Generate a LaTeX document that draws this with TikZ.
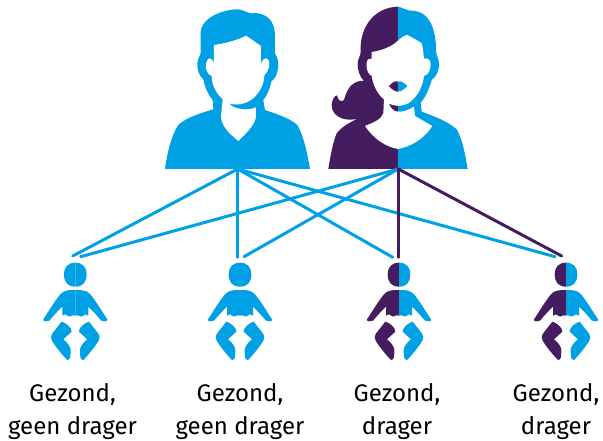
\documentclass[tikz,border=0pt]{standalone}
\usepackage{fontspec}
\setmainfont{Fira Sans}
\usepackage{tikz}
\definecolor{erfblue}{HTML}{00A1E4}
\definecolor{erfpurple}{HTML}{451C5F}
\tikzset{
  link/.style={line width=3pt,line cap=round},
  caption/.style={align=center,font=\fontsize{24}{33}\selectfont,inner sep=0pt}
}
% half a baby, left of the axis, in units of a third of a pixel
\newcommand{\babyhalf}{
  \fill (0,-38) .. controls (-22,-38) and (-34,-52) .. (-34,-72) .. controls (-34,-98) and (-22,-110) .. (0,-110) -- cycle;
  \fill (0,-120) .. controls (-20,-120) and (-34,-120) .. (-46,-134) .. controls (-62,-154) and (-84,-190) .. (-96,-208) .. controls (-98,-215) and (-85,-216) .. (-78,-212) .. controls (-68,-200) and (-52,-182) .. (-39,-170) -- (-39,-197) .. controls (-30,-192) and (-28,-192) .. (-22,-198) .. controls (-16,-204) and (-10,-192) .. (0,-197) -- cycle;
  \fill (-41,-215) .. controls (-30,-218) and (-10,-232) .. (-11,-245) -- (-36,-268) .. controls (-20,-280) and (-12,-295) .. (-14,-305) .. controls (-15,-318) and (-14,-330) .. (-24,-330) .. controls (-30,-325) and (-60,-290) .. (-70,-272) .. controls (-74,-265) and (-74,-258) .. (-70,-252) -- cycle;
}
\begin{document}
\begin{tikzpicture}[x=1pt,y=1pt]
  \useasboundingbox (0,0) rectangle (603,441);

  % father
  \begin{scope}[shift={(150,441)},x=0.3333pt,y=-0.3333pt]
    \fill[erfblue] (45,507) .. controls (52,460) and (62,410) .. (85,375) .. controls (110,352) and (150,340) .. (190,328) -- (188,300) .. controls (172,280) and (165,262) .. (160,238) .. controls (148,228) and (141,210) .. (142,190) .. controls (143,175) and (150,170) .. (152,160) -- (152,95) .. controls (155,55) and (215,28) .. (265,28) .. controls (280,30) and (295,40) .. (305,40) .. controls (350,35) and (375,65) .. (375,105) -- (375,160) .. controls (385,175) and (388,195) .. (382,215) .. controls (378,232) and (372,238) .. (364,245) .. controls (358,270) and (352,285) .. (340,300) -- (345,330) .. controls (380,342) and (420,355) .. (442,375) .. controls (462,410) and (472,460) .. (480,507) -- cycle;
    \fill[white] (192,135) .. controls (225,130) and (260,122) .. (288,107) -- (333,138) -- (333,192) .. controls (336,180) and (345,172) .. (352,176) .. controls (362,182) and (360,210) .. (343,226) .. controls (342,255) and (330,275) .. (310,295) .. controls (290,312) and (260,318) .. (238,310) .. controls (245,325) and (290,335) .. (318,322) -- (318,350) .. controls (315,370) and (300,390) .. (265,423) .. controls (230,395) and (215,375) .. (213,350) -- (218,298) .. controls (200,280) and (186,260) .. (185,228) .. controls (170,225) and (160,195) .. (175,176) .. controls (183,172) and (190,182) .. (192,192) -- cycle;
  \end{scope}

  % mother
  \begin{scope}[shift={(320,441)},x=0.3333pt,y=-0.3333pt]
    \fill[erfpurple] (234,507) -- (25,507) .. controls (32,465) and (38,430) .. (50,400) .. controls (70,375) and (100,362) .. (122,352) .. controls (100,362) and (75,362) .. (55,350) .. controls (38,340) and (30,320) .. (38,300) .. controls (42,292) and (50,282) .. (52,288) .. controls (54,300) and (62,308) .. (72,300) .. controls (78,280) and (85,258) .. (105,248) .. controls (118,242) and (125,242) .. (132,243) .. controls (120,232) and (112,210) .. (113,190) .. controls (114,175) and (122,168) .. (122,155) .. controls (118,85) and (160,22) .. (234,20) -- cycle;
    \fill[erfblue] (234,507) -- (443,507) .. controls (435,460) and (428,420) .. (410,388) .. controls (385,365) and (345,350) .. (305,335) -- (302,308) .. controls (318,290) and (328,265) .. (335,240) .. controls (350,230) and (358,210) .. (357,190) .. controls (356,175) and (348,165) .. (348,150) .. controls (348,90) and (330,30) .. (270,32) .. controls (258,30) and (245,22) .. (234,20) -- cycle;
    % face and neck
    \fill[white] (155,156) .. controls (185,152) and (215,140) .. (234,122) .. controls (245,112) and (255,105) .. (262,105) .. controls (280,115) and (295,122) .. (305,130) .. controls (310,145) and (310,160) .. (312,176) .. controls (320,172) and (332,178) .. (332,192) .. controls (332,210) and (325,225) .. (312,228) .. controls (308,260) and (295,285) .. (272,305) .. controls (255,318) and (228,322) .. (208,312) .. controls (212,325) and (225,335) .. (240,335) .. controls (255,335) and (268,328) .. (282,320) -- (285,348) -- (337,378) .. controls (310,420) and (270,440) .. (234,447) .. controls (195,440) and (160,415) .. (135,378) .. controls (160,368) and (185,358) .. (190,340) -- (192,298) .. controls (175,285) and (160,260) .. (155,228) .. controls (145,225) and (137,205) .. (140,188) .. controls (142,178) and (148,174) .. (155,176) -- cycle;
    % mouth
    \fill[erfpurple] (234,245) .. controls (225,240) and (215,250) .. (207,258) .. controls (215,268) and (225,275) .. (234,275) -- cycle;
    \fill[erfblue] (234,245) .. controls (243,240) and (253,250) .. (262,258) .. controls (253,268) and (243,275) .. (234,275) -- cycle;
    % chin, purple side
    \fill[erfpurple] (234,318) .. controls (225,318) and (215,316) .. (208,312) .. controls (212,325) and (222,333) .. (234,335) -- cycle;
  \end{scope}

  % children
  \foreach \bx/\bl/\br in {75.3/erfblue/erfblue,240/erfblue/erfblue,399/erfpurple/erfblue,566/erfpurple/erfblue}{
    \begin{scope}[shift={(\bx,191)},x=0.3333pt,y=0.3333pt]
      \begin{scope}[color=\bl]
        \babyhalf
      \end{scope}
      \begin{scope}[xscale=-1,color=\br]
        \babyhalf
      \end{scope}
    \end{scope}
  }

  \coordinate (F) at (237.7,272);
  \coordinate (M) at (398.3,272);
  \coordinate (F1) at (72.7,185);
  \coordinate (F2) at (237.7,183.7);
  \coordinate (F3) at (392.7,183.7);
  \coordinate (F4) at (555,184.3);
  \coordinate (M1) at (80.7,184.3);
  \coordinate (M2) at (244,184.3);
  \coordinate (M3) at (398.3,183.7);
  \coordinate (M4) at (561.7,185);
  \draw[link,erfblue] (M) -- (M1);
  \draw[link,erfblue] (M) -- (M2);
  \draw[link,erfblue] (F) -- (F1);
  \draw[link,erfblue] (F) -- (F2);
  \draw[link,erfblue] (F) -- (F3);
  \draw[link,erfblue] (F) -- (F4);
  \draw[link,erfpurple] (M) -- (M3);
  \draw[link,erfpurple] (M) -- (M4);

  \node (C1) at (72.5,29) [caption] {Gezond,\\geen drager};
  \node (C2) at (240,29) [caption] {Gezond,\\geen drager};
  \node (C3) at (397,29) [caption] {Gezond,\\drager};
  \node (C4) at (556,29) [caption] {Gezond,\\drager};
\end{tikzpicture}
\end{document}
